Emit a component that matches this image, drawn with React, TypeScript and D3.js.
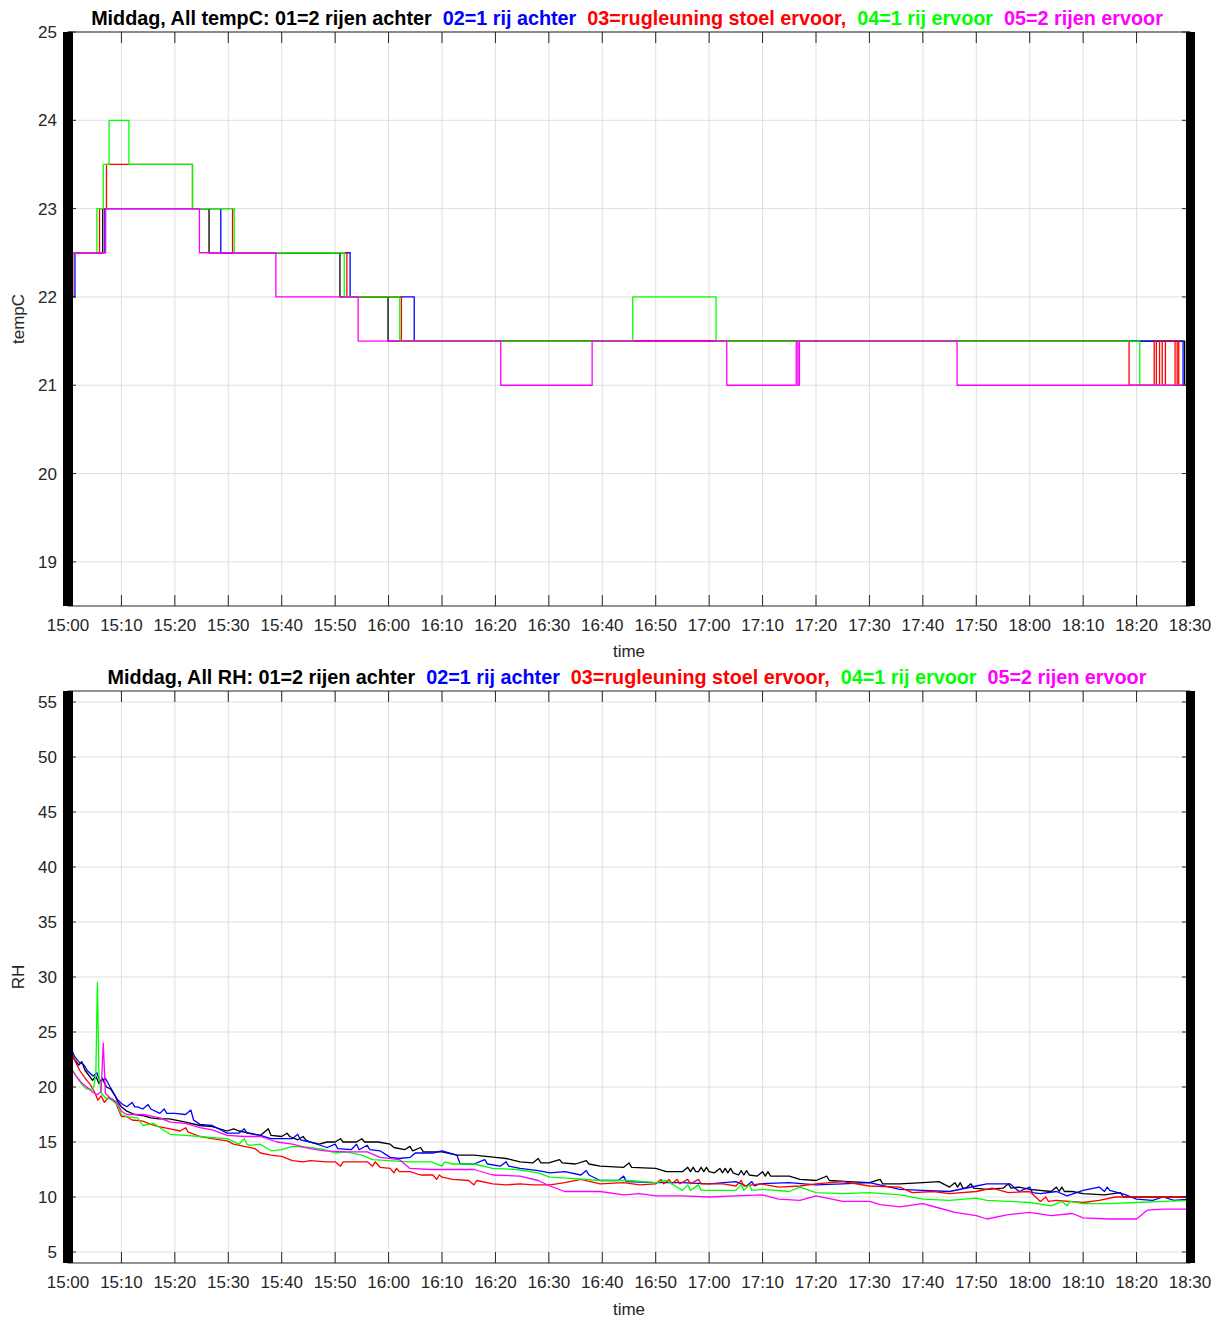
import React from "react";
import * as d3 from "d3";

// ---------- data ----------
const xTickLabels = ["15:00","15:10","15:20","15:30","15:40","15:50","16:00","16:10","16:20","16:30","16:40","16:50","17:00","17:10","17:20","17:30","17:40","17:50","18:00","18:10","18:20","18:30"];
const xTicks = d3.range(0, 211, 10);
const tempTicks = [19, 20, 21, 22, 23, 24, 25];
const rhTicks = [5, 10, 15, 20, 25, 30, 35, 40, 45, 50, 55];
const seriesColors = ["#000000", "#0000ff", "#ff0000", "#00ff00", "#ff00ff"];
const titleParts = ["01=2 rijen achter", "02=1 rij achter", "03=rugleuning stoel ervoor,", "04=1 rij ervoor", "05=2 rijen ervoor"];

// temperature: [minute after 15:00, value] steps
const temp01: [number, number][] = [[0,22.5],[6.5,23],[26.4,22.5],[50.9,22],[59.9,21.5],[209,21],[210,21]];
const temp02: [number, number][] = [[0,22],[1.3,22.5],[6.9,23],[28.6,22.5],[52.8,22],[64.8,21.5],[208.7,21],[210,21]];
const temp03: [number, number][] = [[0,22],[0.9,22.5],[5.9,23],[7.2,23.5],[23.3,23],[30.8,22.5],[52.2,22],[62.4,21.5],[198.6,21],[203.3,21.5],[203.7,21],[204.3,21.5],[204.8,21],[205.4,21.5],[207.2,21],[207.6,21.5],[207.9,21],[210,21]];
const temp04: [number, number][] = [[0,22.5],[5.4,23],[6.6,23.5],[7.7,24],[11.4,23.5],[23.3,23],[31.1,22.5],[51.7,22],[62.1,21.5],[105.7,22],[121.3,21.5],[200.6,21],[210,21]];
const temp05: [number, number][] = [[0,22.5],[7.05,23],[24.6,22.5],[38.9,22],[54.3,21.5],[81.0,21],[98.1,21.5],[123.3,21],[136.3,21.5],[136.6,21],[136.9,21.5],[166.4,21],[210,21]];

// relative humidity: [minute after 15:00, value]
const rh01: [number, number][] = [[0,23.5],[0.5,23.2],[1.2,22.5],[2,22],[2.6,22.3],[3.2,21.5],[4,21],[4.6,20.6],[5.2,21],[5.8,20.3],[6.4,20.8],[7.2,20],[8,19.8],[8.8,19.2],[9.4,18.6],[10,18.2],[11,17.8],[12.5,17.5],[14,17.4],[15.5,17.2],[17,17.1],[19,17.1],[22,16.8],[24.7,16.5],[27,16.4],[29.8,16],[31,16.2],[32,16],[34,15.8],[36,15.6],[37.5,16.2],[38,15.6],[40,15.5],[41,15.8],[41.5,15.5],[43,15.2],[44,15.5],[44.5,15.2],[45.3,15],[47,14.8],[48.5,15],[50,15],[51,15.3],[51.5,15],[54,15],[55,15.3],[55.5,15],[58,15],[60.3,14.8],[61,14.5],[63,14.3],[64,14.6],[64.5,14.2],[66,14.5],[66.5,14.1],[68,14.1],[70,14.1],[72.8,13.8],[76,13.8],[80,13.6],[82,13.5],[84.6,13.2],[87,13.1],[88,13.5],[88.5,13.1],[90,13.1],[92,13.4],[92.5,13.1],[95,13],[97,13.3],[97.5,13],[99.6,12.8],[104,12.7],[105,13.1],[105.5,12.7],[110,12.6],[112,12.3],[115,12.3],[116,12.7],[116.5,12.3],[117,12.7],[117.5,12.3],[118,12.3],[118.5,12.7],[119,12.3],[119.5,12.7],[120,12.3],[121,12.2],[122,12.6],[122.5,12.2],[123,12.6],[123.5,12.2],[124,12.6],[124.5,12.2],[125.5,12],[126,12.4],[126.5,12],[127,12.4],[127.5,12],[129,11.9],[130,12.3],[130.5,11.9],[131,12.3],[131.5,11.9],[135,11.9],[137,11.6],[140,11.5],[142,11.9],[142.5,11.5],[146,11.4],[150,11.3],[152,11.6],[152.5,11.2],[155.7,11.2],[160,11.3],[163,11.4],[165,10.9],[166,11.3],[166.5,10.9],[167,11.3],[167.5,10.8],[168,10.8],[169,11.2],[169.5,10.8],[172,10.7],[175,10.8],[176,11.2],[176.5,10.8],[178,10.9],[180,10.7],[184,10.5],[185,10.9],[185.5,10.5],[186,10.9],[186.5,10.5],[188,10.5],[190,10.3],[194,10.2],[197,10.4],[197.5,10],[200,10],[205,10],[210,10]];
const rh02: [number, number][] = [[0,23.8],[0.6,23.5],[1.2,22.8],[2,22.3],[3,22],[3.6,21.5],[4.7,21],[5.4,21.3],[6,20.5],[7,20.8],[7.9,20],[8.5,19.5],[9.2,18.9],[10,18.5],[11,18.2],[12,18.6],[12.5,18.2],[13,18.2],[14,18],[15,18.4],[15.5,18],[17.2,17.6],[18,18],[18.5,17.6],[20,17.6],[22,17.5],[23,17.9],[23.5,17],[24.7,16.6],[27,16.5],[29.8,15.8],[32,15.8],[33,16.2],[33.5,15.8],[36,15.6],[38,15.3],[40,15.3],[42,15.3],[43,15.7],[43.5,15.2],[45.3,15],[48.5,14.5],[50,14.8],[50.5,14.4],[53,14.3],[54,14.8],[54.5,14.3],[56,14.7],[56.5,14.3],[58.4,14.2],[60.3,13.6],[62,13.5],[64,13.6],[65,14],[68.3,14],[70,14.2],[72.8,13.8],[73.4,13],[76,13],[78,13.4],[78.5,13],[80.9,12.8],[82,13.2],[82.5,12.8],[84.6,12.6],[88,12.4],[90.2,12.2],[93,12.3],[96,12],[97,12.4],[97.5,12],[99.6,11.5],[103,11.5],[104,11.9],[104.5,11.4],[110,11.3],[115,11.3],[120,11.2],[125,11.4],[127,11],[128,11.4],[128.5,11],[129.5,11.2],[135,11.3],[140,11.1],[145,11.2],[150,11.3],[155.7,10.7],[160,10.6],[165,10.5],[170,11],[172,11.2],[176.3,11.2],[178,10.5],[180,10.9],[180.5,10.4],[182,10.3],[185,10.5],[187,10.1],[190,10.6],[193,10.9],[194,10.5],[194.5,10.9],[195,10.6],[198,10.2],[200,9.8],[203,9.7],[205,10],[207,9.7],[210,9.8]];
const rh03: [number, number][] = [[0,24.2],[0.5,23.5],[1.2,22.5],[2.2,21.5],[3.2,20.8],[4.2,20.2],[5,19.5],[5.6,18.8],[6.2,19.2],[6.8,18.6],[7.5,19],[8.3,18.9],[9,18.5],[10,17.3],[11,17.3],[12,17],[14,16.9],[15.5,16.6],[17,16.4],[19.1,16.2],[21,16],[22,16.3],[22.5,15.9],[24.7,15.5],[27,15.3],[29.8,15.1],[31,14.8],[33,14.6],[35,14.4],[36,14],[38,13.8],[40,13.7],[42,13.3],[44,13.2],[45.3,13.3],[48.5,13.2],[50,13.2],[51,12.8],[51.5,13.2],[56,13.2],[57,12.8],[57.5,13.2],[58.4,12.7],[60.3,12.6],[61,12.2],[61.5,12.6],[62,12.3],[64,12.3],[66,12],[68.3,12],[69,11.6],[69.5,12],[70,11.8],[72,11.6],[75,11.5],[76,11.1],[76.5,11.5],[79.5,11.2],[82,11.1],[84.6,11.2],[87,11.1],[90.2,11.1],[93,11.3],[96,11.6],[99.6,11.2],[104,11.3],[107,11.1],[110,11.2],[111,11.6],[111.5,11.2],[112.5,11.6],[113,11.2],[114,11.6],[114.5,11.2],[116,11.6],[116.5,11.2],[118,11.6],[118.5,11.2],[122.6,11.2],[125,11],[126,11.5],[126.5,11],[129.5,11.2],[133,10.9],[137,11],[140,11.2],[145,11.4],[150,11],[155.7,10.9],[158,10.4],[162,10.5],[165,10.3],[170,10.5],[173,10.8],[176,10.4],[180,10.5],[182,9.6],[183,10],[183.5,9.6],[185,9.7],[190,9.5],[193,9.7],[196,10],[200,10],[205,10],[210,10]];
const rh04: [number, number][] = [[0,22.2],[0.8,21.6],[1.5,21],[2.5,20.3],[3.5,19.8],[4.7,19.8],[5.2,21],[5.5,29.5],[5.8,21],[6.2,19.5],[7,19],[7.9,18.9],[9.2,18.4],[10,17.5],[11,17.3],[13,17.2],[14,16.5],[16,16.7],[17.2,16.3],[19.1,15.7],[22,15.6],[24.7,15.5],[27,15.4],[29.8,15.3],[32,14.8],[33,15.3],[33.5,14.8],[34,14.7],[36,14.8],[38,14.2],[40,14.3],[42,14.6],[45.3,14.5],[48,14.3],[50,14],[52,14.1],[55,13.8],[57,13.4],[60,13.3],[64,13.2],[68,13.2],[70,12.8],[70.5,13.2],[72,13],[76,13],[79.5,12.6],[84,12.5],[88,12.2],[90.2,11.8],[94,11.7],[99.6,11.5],[105,11.5],[110,11.3],[112,11.5],[115,10.6],[116,11.1],[116.5,10.6],[118,11.1],[118.5,10.6],[120,10.6],[125,10.6],[126,11.1],[126.5,10.6],[127.5,11.1],[128,10.6],[130,10.7],[135,10.5],[137,10.9],[140,10.4],[145,10.3],[150,10.4],[155.7,10.2],[160,9.8],[165,9.7],[170,9.9],[172,9.7],[176,9.6],[180,9.5],[184,9.2],[186,9.6],[187,9.2],[187.5,9.6],[190,9.4],[195,9.4],[200,9.5],[205,9.6],[210,9.7]];
const rh05: [number, number][] = [[0,22.3],[0.8,21.5],[1.5,21],[2.5,20.4],[3.5,20],[4.7,19.5],[5.5,19.3],[6.2,19.6],[6.6,24],[7,19.4],[7.9,19],[9.2,18.6],[10,17.8],[11,17.5],[14,17.5],[17.2,17.2],[19.1,16.8],[22,16.7],[24.7,16.3],[27,16.1],[29.8,15.6],[33,15.5],[36,15.5],[39.1,15],[42,14.8],[45.3,14.4],[48,14.2],[52,14.1],[56,14.1],[58.4,13.6],[62,13.4],[64,12.6],[68,12.5],[72,12.5],[76,12.5],[79.5,12],[84.6,11.9],[88,11.5],[90.2,11],[93,10.5],[96,10.5],[99.6,10.5],[104,10.2],[107,10.3],[110,10.1],[115,10.1],[120,10],[125,10.1],[130,10.2],[133,9.8],[137,9.7],[140,10.1],[145,9.6],[150,9.6],[152,9.3],[155.7,9.1],[160,9.4],[163,9],[166,8.6],[170,8.3],[172,8],[176,8.4],[180,8.6],[184,8.3],[188,8.5],[190,8.1],[195,8],[200,8],[202,8.8],[205,8.9],[210,8.9]];

const tempSeries = [temp01, temp02, temp03, temp04, temp05];
const rhSeries = [rh01, rh02, rh03, rh04, rh05];

// ---------- layout ----------
const W = 1219, H = 1319;
const FONT = "'Liberation Sans', Arial, Helvetica, sans-serif";
const AX = "#262626";
const GRID = "#dfdfdf";
const X0 = 68, X1 = 1190;

type PanelProps = {
  top: number; bottom: number; domain: [number, number]; ticks: number[];
  series: [number, number][][]; step: boolean; name: string; ylabel: string;
  titleY: number; xlabelY: number;
};

function Panel(p: PanelProps) {
  const x = d3.scaleLinear().domain([0, 210]).range([X0, X1]);
  const y = d3.scaleLinear().domain(p.domain).range([p.bottom, p.top]);
  const line = d3.line<[number, number]>().x(d => x(d[0])).y(d => y(d[1]))
    .curve(p.step ? d3.curveStepAfter : d3.curveLinear);
  const tl = 11;
  const tly = 8;
  return (
    <g>
      {xTicks.map(t => <line key={"gx"+t} x1={x(t)} x2={x(t)} y1={p.top} y2={p.bottom} stroke={GRID} strokeWidth={1} />)}
      {p.ticks.map(t => <line key={"gy"+t} x1={X0} x2={X1} y1={y(t)} y2={y(t)} stroke={GRID} strokeWidth={1} />)}
      <g clipPath={`url(#clip-${p.name})`}>
        {p.series.map((s, i) => (
          <path key={i} d={line(s) || ""} fill="none" stroke={seriesColors[i]} strokeWidth={1.3} strokeLinejoin="round" />
        ))}
      </g>
      <rect x={X0} y={p.top} width={X1 - X0} height={p.bottom - p.top} fill="none" stroke={AX} strokeWidth={1} />
      {xTicks.map(t => (
        <g key={"tx"+t}>
          <line x1={x(t)} x2={x(t)} y1={p.bottom} y2={p.bottom - tl} stroke={AX} />
          <line x1={x(t)} x2={x(t)} y1={p.top} y2={p.top + tl} stroke={AX} />
        </g>
      ))}
      {p.ticks.map(t => (
        <g key={"ty"+t}>
          <line x1={X0} x2={X0 + tly} y1={y(t)} y2={y(t)} stroke={AX} />
          <line x1={X1} x2={X1 - tly} y1={y(t)} y2={y(t)} stroke={AX} />
        </g>
      ))}
      <rect x={X0 - 5} y={p.top} width={10} height={p.bottom - p.top} fill="#000" />
      <rect x={X1 - 4} y={p.top} width={9} height={p.bottom - p.top} fill="#000" />
      {xTicks.map((t, i) => (
        <text key={"lx"+t} x={x(t)} y={p.bottom + 25} textAnchor="middle" fontSize={17} fill={AX} fontFamily={FONT}>{xTickLabels[i]}</text>
      ))}
      {p.ticks.map(t => (
        <text key={"ly"+t} x={X0 - 11} y={y(t) + 6} textAnchor="end" fontSize={17} fill={AX} fontFamily={FONT}>{t}</text>
      ))}
      <text x={(X0 + X1) / 2} y={p.xlabelY} textAnchor="middle" fontSize={17} fill={AX} fontFamily={FONT}>time</text>
      <text transform={`translate(24, ${(p.top + p.bottom) / 2}) rotate(-90)`} textAnchor="middle" fontSize={17} fill={AX} fontFamily={FONT}>{p.ylabel}</text>
      <text x={(X0 + X1) / 2 - 2} y={p.titleY} textAnchor="middle" fontSize={19.8} fontWeight="bold" fontFamily={FONT} style={{ whiteSpace: "pre" }}>
        <tspan fill="#000">{`Middag, All ${p.name}: ${titleParts[0]}  `}</tspan>
        <tspan fill={seriesColors[1]}>{`${titleParts[1]}  `}</tspan>
        <tspan fill={seriesColors[2]}>{`${titleParts[2]}  `}</tspan>
        <tspan fill={seriesColors[3]}>{`${titleParts[3]}  `}</tspan>
        <tspan fill={seriesColors[4]}>{titleParts[4]}</tspan>
      </text>
    </g>
  );
}

export default function App() {
  return (
    <svg width={W} height={H} style={{ display: "block", position: "absolute", left: 0, top: 0, background: "#fff" }}>
      <defs>
        <clipPath id="clip-tempC"><rect x={X0} y={32} width={X1 - X0} height={574} /></clipPath>
        <clipPath id="clip-RH"><rect x={X0} y={691} width={X1 - X0} height={572} /></clipPath>
      </defs>
      <rect x={0} y={0} width={W} height={H} fill="#fff" />
      <Panel top={32} bottom={606} domain={[18.5, 25]} ticks={tempTicks} series={tempSeries} step={true}
        name="tempC" ylabel="tempC" titleY={25} xlabelY={657} />
      <Panel top={691} bottom={1263} domain={[4, 56]} ticks={rhTicks} series={rhSeries} step={false}
        name="RH" ylabel="RH" titleY={684} xlabelY={1315} />
    </svg>
  );
}
